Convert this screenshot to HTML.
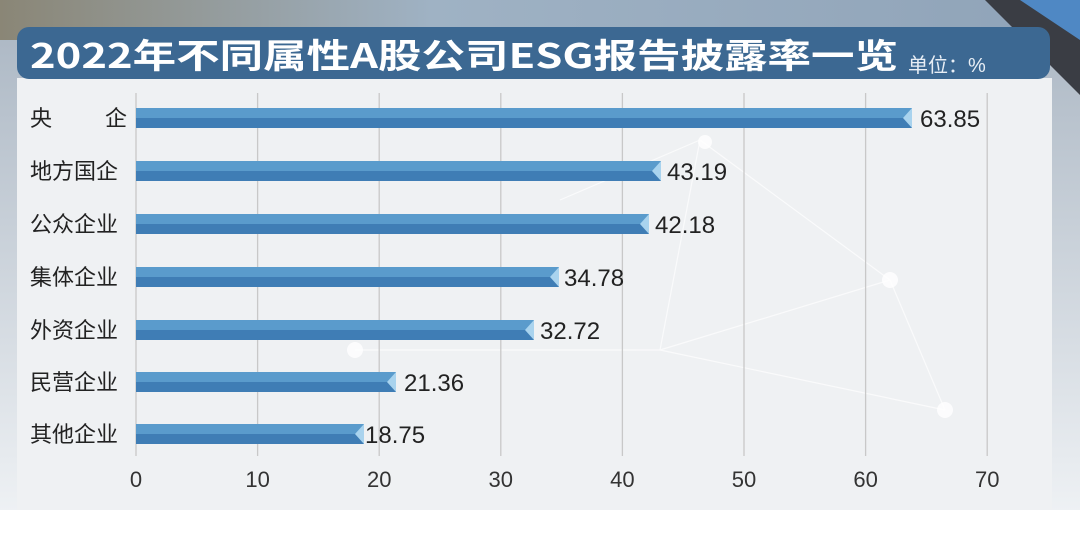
<!DOCTYPE html>
<html><head><meta charset="utf-8"><style>
body{margin:0;width:1080px;height:533px;overflow:hidden;background:#fff;font-family:"Liberation Sans","Noto Sans CJK SC",sans-serif;}
</style></head><body>
<svg width="1080" height="533" xmlns="http://www.w3.org/2000/svg" style="display:block">
<defs>
<linearGradient id="top" x1="0" x2="1" y1="0" y2="0"><stop offset="0" stop-color="#8a8676"/><stop offset="0.4" stop-color="#9fb2c4"/><stop offset="1" stop-color="#8fa3b8"/></linearGradient>
<linearGradient id="side" x1="0" x2="0" y1="0" y2="1"><stop offset="0" stop-color="#a9b5c2"/><stop offset="1" stop-color="#eef1f4"/></linearGradient>
</defs>
<rect x="0" y="0" width="1080" height="512" fill="url(#side)"/>
<rect x="0" y="0" width="1080" height="40" fill="url(#top)"/>
<rect x="17" y="78" width="1035" height="432" fill="#eff1f3"/>
<rect x="0" y="510" width="1080" height="23" fill="#fff"/>
<g stroke="#fff" stroke-width="1.2" opacity="0.7" fill="none">
<line x1="700" y1="140" x2="890" y2="280"/><line x1="890" y1="280" x2="945" y2="410"/><line x1="660" y1="350" x2="890" y2="280"/><line x1="660" y1="350" x2="945" y2="410"/><line x1="355" y1="350" x2="660" y2="350"/><line x1="700" y1="140" x2="660" y2="350"/><line x1="560" y1="200" x2="700" y2="140"/>
</g>
<g fill="#fff" opacity="0.8"><circle cx="890" cy="280" r="8"/><circle cx="945" cy="410" r="8"/><circle cx="355" cy="350" r="8"/><circle cx="705" cy="142" r="7"/></g>
<path d="M985 0 L1080 0 L1080 95 Z" fill="#3a3d44"/>
<path d="M1020 0 L1080 0 L1080 40 Z" fill="#4f88c4"/>
<rect x="17" y="27" width="1033" height="52" rx="12" fill="#3c6892"/>
<text x="30" y="68" font-size="34" font-weight="bold" fill="#fff" textLength="868" lengthAdjust="spacingAndGlyphs" font-family="'Noto Sans CJK SC',sans-serif">2022年不同属性A股公司ESG报告披露率一览</text>
<text x="908" y="72" font-size="20" fill="#e8eef5">单位：%</text>
<g stroke="#c8c8c8" stroke-width="1.3">
<line x1="136" y1="93" x2="136" y2="456"/><line x1="257.6" y1="93" x2="257.6" y2="456"/><line x1="379.2" y1="93" x2="379.2" y2="456"/><line x1="500.8" y1="93" x2="500.8" y2="456"/><line x1="622.4" y1="93" x2="622.4" y2="456"/><line x1="744" y1="93" x2="744" y2="456"/><line x1="865.6" y1="93" x2="865.6" y2="456"/><line x1="987.2" y1="93" x2="987.2" y2="456"/>
</g>
<g font-size="22" fill="#333" text-anchor="middle">
<text x="136" y="487">0</text><text x="257.6" y="487">10</text><text x="379.2" y="487">20</text><text x="500.8" y="487">30</text><text x="622.4" y="487">40</text><text x="744" y="487">50</text><text x="865.6" y="487">60</text><text x="987.2" y="487">70</text>
</g>
<g font-size="22" fill="#222">
<text x="30" y="126">央</text><text x="105" y="126">企</text>
<text x="30" y="179">地方国企</text><text x="30" y="232">公众企业</text><text x="30" y="285">集体企业</text><text x="30" y="338">外资企业</text><text x="30" y="390">民营企业</text><text x="30" y="442">其他企业</text>
</g>
<g font-size="24" fill="#222">
<g>
<rect x="136" y="108" width="776" height="10" fill="#5a9bcc"/><rect x="136" y="118" width="776" height="10" fill="#3f7db5"/><path d="M912 108 L903 118 L912 128 Z" fill="#a9d3ee"/><text x="920" y="127">63.85</text>
</g>
<g>
<rect x="136" y="161" width="525" height="10" fill="#5a9bcc"/><rect x="136" y="171" width="525" height="10" fill="#3f7db5"/><path d="M661 161 L652 171 L661 181 Z" fill="#a9d3ee"/><text x="667" y="180">43.19</text>
</g>
<g>
<rect x="136" y="214" width="513" height="10" fill="#5a9bcc"/><rect x="136" y="224" width="513" height="10" fill="#3f7db5"/><path d="M649 214 L640 224 L649 234 Z" fill="#a9d3ee"/><text x="655" y="233">42.18</text>
</g>
<g>
<rect x="136" y="267" width="423" height="10" fill="#5a9bcc"/><rect x="136" y="277" width="423" height="10" fill="#3f7db5"/><path d="M559 267 L550 277 L559 287 Z" fill="#a9d3ee"/><text x="564" y="286">34.78</text>
</g>
<g>
<rect x="136" y="320" width="398" height="10" fill="#5a9bcc"/><rect x="136" y="330" width="398" height="10" fill="#3f7db5"/><path d="M534 320 L525 330 L534 340 Z" fill="#a9d3ee"/><text x="540" y="339">32.72</text>
</g>
<g>
<rect x="136" y="372" width="260" height="10" fill="#5a9bcc"/><rect x="136" y="382" width="260" height="10" fill="#3f7db5"/><path d="M396 372 L387 382 L396 392 Z" fill="#a9d3ee"/><text x="404" y="391">21.36</text>
</g>
<g>
<rect x="136" y="424" width="228" height="10" fill="#5a9bcc"/><rect x="136" y="434" width="228" height="10" fill="#3f7db5"/><path d="M364 424 L355 434 L364 444 Z" fill="#a9d3ee"/><text x="365" y="443">18.75</text>
</g>
</g>
</svg>
</body></html>
